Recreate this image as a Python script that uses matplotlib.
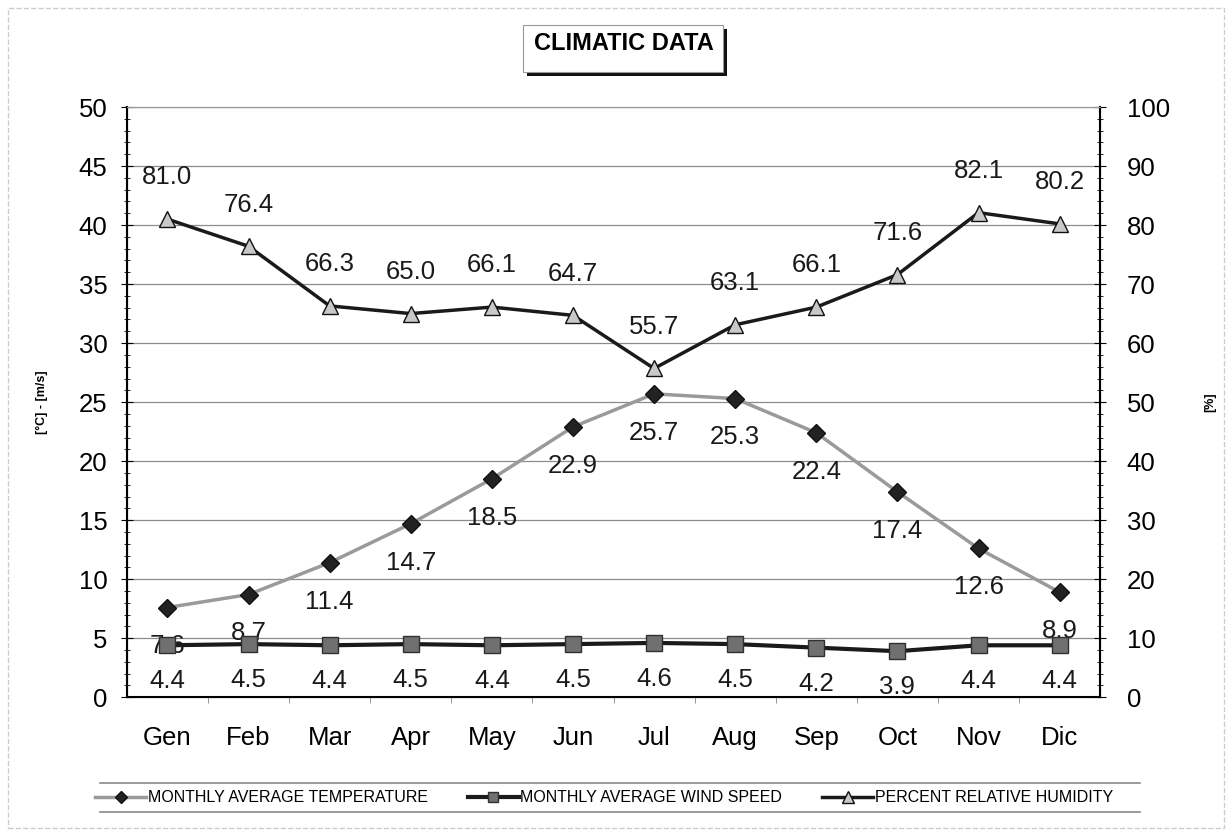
import matplotlib
matplotlib.use("agg")
import matplotlib.pyplot as plt
from matplotlib.patches import Rectangle
from matplotlib.lines import Line2D
from matplotlib.ticker import MultipleLocator

months = ['Gen', 'Feb', 'Mar', 'Apr', 'May', 'Jun', 'Jul', 'Aug', 'Sep', 'Oct', 'Nov', 'Dic']
temperature = [7.6, 8.7, 11.4, 14.7, 18.5, 22.9, 25.7, 25.3, 22.4, 17.4, 12.6, 8.9]
wind_speed = [4.4, 4.5, 4.4, 4.5, 4.4, 4.5, 4.6, 4.5, 4.2, 3.9, 4.4, 4.4]
humidity = [81.0, 76.4, 66.3, 65.0, 66.1, 64.7, 55.7, 63.1, 66.1, 71.6, 82.1, 80.2]

plt.rcParams['font.family'] = ['Liberation Sans', 'DejaVu Sans']
FS = 18.5

fig = plt.figure(figsize=(12.32, 8.36), dpi=100)
ax = fig.add_axes([0.103, 0.166, 0.790, 0.706])
ax2 = ax.twinx()

x = list(range(len(months)))

# temperatura e vento no eixo da esquerda
l1, = ax.plot(x, temperature, color='#9a9a9a', lw=2.5, marker='D', markersize=9,
              markerfacecolor='#222222', markeredgecolor='#111111', zorder=4)
l2, = ax.plot(x, wind_speed, color='#1a1a1a', lw=3, marker='s', markersize=11,
              markerfacecolor='#707070', markeredgecolor='#303030', zorder=4)
# umidade no eixo da direita
l3, = ax2.plot(x, humidity, color='#1a1a1a', lw=2.5, marker='^', markersize=12,
               markerfacecolor='#c8c8c8', markeredgecolor='#111111', zorder=4)

for i in x:
    ax.annotate('%.1f' % temperature[i], (i, temperature[i]), xytext=(0, -28),
                textcoords='offset points', ha='center', va='center', fontsize=FS, color='#1a1a1a')
    ax.annotate('%.1f' % wind_speed[i], (i, wind_speed[i]), xytext=(0, -26),
                textcoords='offset points', ha='center', va='center', fontsize=FS, color='#1a1a1a')
    ax2.annotate('%.1f' % humidity[i], (i, humidity[i]), xytext=(0, 30),
                 textcoords='offset points', ha='center', va='center', fontsize=FS, color='#1a1a1a')

ax.set_xlim(-0.5, 11.5)
ax.set_ylim(0, 50)
ax2.set_ylim(0, 100)

ax.set_xticks(x)
ax.set_xticklabels(months, fontsize=FS)
ax.set_xticks([i + 0.5 for i in x[:-1]], minor=True)
ax.tick_params(axis='x', which='major', length=0, pad=21)
ax.tick_params(axis='x', which='minor', length=4, direction='out', color='#888888')

ax.yaxis.set_major_locator(MultipleLocator(5))
ax.yaxis.set_minor_locator(MultipleLocator(1))
ax.tick_params(axis='y', which='major', labelsize=FS, length=8, direction='inout', pad=10)
ax.tick_params(axis='y', which='minor', length=4, direction='inout')
ax2.yaxis.set_major_locator(MultipleLocator(10))
ax2.yaxis.set_minor_locator(MultipleLocator(2))
ax2.tick_params(axis='y', which='major', labelsize=FS, length=8, direction='inout', pad=15)
ax2.tick_params(axis='y', which='minor', length=4, direction='inout')

ax.grid(True, axis='y', color='#8c8c8c', lw=0.9)
ax.set_axisbelow(True)

ax.spines['top'].set_color('#999999')
ax2.spines['top'].set_color('#999999')
ax.spines['left'].set_linewidth(1.5)
ax2.spines['right'].set_linewidth(1.5)
ax.spines['bottom'].set_linewidth(1.5)

ax.set_ylabel('[°C] - [m/s]', fontsize=9, fontweight='bold', labelpad=22)
ax2.set_ylabel('[%]', fontsize=9, fontweight='bold', labelpad=25, rotation=90)

# titolo con riquadro ombreggiato
fig.add_artist(Rectangle((527 / 1232, 1 - 76 / 836), 200 / 1232, 47 / 836,
                         transform=fig.transFigure, facecolor='#111111', edgecolor='none'))
fig.add_artist(Rectangle((523 / 1232, 1 - 72 / 836), 200 / 1232, 47 / 836,
                         transform=fig.transFigure, facecolor='white', edgecolor='#999999', lw=0.8))
fig.text(624 / 1232, 1 - 43 / 836, 'CLIMATIC DATA', ha='center', va='center',
         fontsize=17, fontweight='bold')

# legenda
fig.legend([l1, l2, l3],
           ['MONTHLY AVERAGE TEMPERATURE', 'MONTHLY AVERAGE WIND SPEED', 'PERCENT RELATIVE HUMIDITY'],
           loc='center', bbox_to_anchor=(604 / 1232, 1 - 798 / 836), ncol=3, frameon=False,
           prop={'size': 11.5}, handlelength=3.2, handletextpad=0.1, columnspacing=2.5,
           markerscale=0.7)
for yy in [783, 812]:
    fig.add_artist(Line2D([100 / 1232, 1140 / 1232], [1 - yy / 836, 1 - yy / 836],
                          transform=fig.transFigure, color='#888888', lw=1.2))

# bordo esterno
fig.add_artist(Rectangle((8 / 1232, 8 / 836), 1216 / 1232, 820 / 836, transform=fig.transFigure,
                         facecolor='none', edgecolor='#cccccc', lw=1, ls='--'))

fig.savefig('out.png', dpi=100)
